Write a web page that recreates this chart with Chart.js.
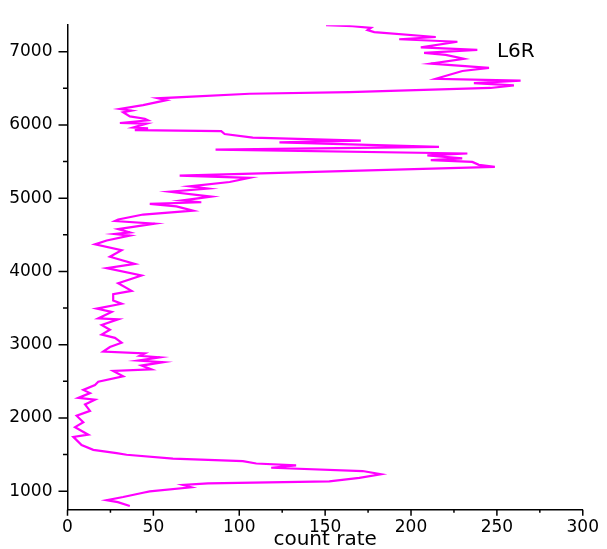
<!DOCTYPE html>
<html>
<head>
<meta charset="utf-8">
<script src="https://cdn.jsdelivr.net/npm/chart.js@4"></script>
<style>
  html, body { margin: 0; padding: 0; background: #fff; }
  #wrap { width: 607px; height: 549px; }
</style>
</head>
<body>
<div id="wrap"><canvas id="profileChart"></canvas></div>
<script>
// depth (y) and count rate (x) from top to bottom
const depth = [7362, 7348, 7325, 7294, 7268, 7201, 7170, 7136, 7060, 7024, 6984, 6957, 6904, 6838, 6780, 6737, 6630, 6604, 6572, 6541, 6505,
    6461, 6448, 6426, 6364, 6338, 6271, 6218, 6195, 6173, 6116, 6085, 6063, 6027, 6018, 5965, 5952, 5930,
    5916, 5876, 5827, 5787, 5761, 5700, 5664, 5610, 5584, 5544, 5521, 5495, 5455, 5428,
    5309, 5278, 5221, 5162, 5132, 5088, 5021, 4968, 4945, 4923, 4888, 4830, 4777, 4710, 4689, 4653, 4577, 4533, 4511, 4489,
    4423, 4370, 4290, 4201, 4104, 4045, 3944, 3838, 3735, 3691, 3602, 3559, 3492, 3447, 3359, 3346, 3270, 3203, 3137, 3093,
    3027, 2968, 2907, 2880, 2848, 2827, 2782, 2761, 2715, 2662, 2641, 2569, 2495, 2450, 2383, 2339, 2273, 2250, 2184, 2096,
    2029, 1940, 1874, 1771, 1741, 1630, 1564, 1519, 1497, 1444, 1409, 1378, 1351, 1320, 1275, 1231, 1181, 1133, 1106, 1085,
    1053, 996, 979, 920, 877, 850, 797];
const countRate = [150.5, 166.0, 176.7, 174.7, 178.6, 214.4, 193.1, 227.0, 205.7, 238.6, 207.6, 220.2, 230.8, 211.5, 245.4, 229.9, 214.4, 263.8, 236.6, 259.9, 246.3,
    183.2, 164.0, 106.0, 52.7, 57.6, 44.0, 30.5, 37.3, 32.4, 36.3, 45.0, 46.9, 30.5, 46.0, 38.2, 46.9, 39.2,
    89.5, 91.5, 107.9, 170.8, 123.4, 216.3, 86.2, 232.8, 209.5, 229.8, 211.5, 235.7, 239.5, 248.8,
    65.3, 106.0, 94.4, 71.1, 81.8, 59.5, 83.7, 66.3, 77.9, 47.9, 63.4, 73.1, 44.0, 29.5, 27.6, 50.8, 29.5, 36.3, 27.6, 36.3,
    22.8, 16.0, 31.5, 24.7, 39.2, 22.8, 43.1, 29.5, 37.3, 26.6, 26.6, 31.5, 17.0, 25.7, 17.9, 29.5, 19.9, 24.7, 19.9, 27.6,
    31.5, 24.7, 20.8, 45.0, 42.1, 53.7, 41.1, 55.6, 43.1, 48.9, 26.6, 32.4, 17.9, 16.0, 9.2, 13.1, 6.3, 16.0, 10.2, 13.1,
    5.3, 9.2, 4.4, 12.1, 3.4, 8.2, 15.0, 28.6, 34.4, 61.4, 102.1, 109.9, 133.1, 118.6, 171.8, 182.5, 169.9, 152.4, 81.8, 67.2,
    72.1, 47.9, 44.0, 32.4, 22.8, 29.3, 36.3];

const xTicks = [0, 50, 100, 150, 200, 250, 300];
const yTicks = [1000, 2000, 3000, 4000, 5000, 6000, 7000];
const xMinor = [25, 75, 125, 175, 225, 275];
const yMinor = [1500, 2500, 3500, 4500, 5500, 6500];
const curveLabel = 'L6R';

const points = countRate.map((c, i) => ({ x: c, y: depth[i] }));

// tick marks: x ticks hang below the axis, y ticks stick out to the left
const axisMarks = {
    id: 'axisMarks',
    afterDraw(chart) {
        const { ctx, scales: { x, y } } = chart;
        ctx.save();
        ctx.strokeStyle = '#000';
        ctx.lineWidth = 1.5;
        ctx.beginPath();
        xTicks.forEach(v => { const p = x.getPixelForValue(v); ctx.moveTo(p, x.top); ctx.lineTo(p, x.top + 6); });
        xMinor.forEach(v => { const p = x.getPixelForValue(v); ctx.moveTo(p, x.top); ctx.lineTo(p, x.top + 3); });
        yTicks.forEach(v => { const p = y.getPixelForValue(v); ctx.moveTo(y.right - 9, p); ctx.lineTo(y.right, p); });
        yMinor.forEach(v => { const p = y.getPixelForValue(v); ctx.moveTo(y.right - 4.5, p); ctx.lineTo(y.right, p); });
        ctx.stroke();
        ctx.fillStyle = '#000';
        ctx.font = '20px "DejaVu Sans"';
        ctx.textBaseline = 'middle';
        ctx.fillText(curveLabel, x.getPixelForValue(250), y.getPixelForValue(7000));
        ctx.restore();
    }
};

const profileCtx = document.getElementById('profileChart').getContext('2d');
const profileChart = new Chart(profileCtx, {
    type: 'scatter',
    data: {
        datasets: [{
            label: curveLabel,
            data: points,
            showLine: true,
            borderColor: '#ff00ff',
            borderWidth: 2.2,
            pointRadius: 0,
            tension: 0
        }]
    },
    options: {
        responsive: true,
        maintainAspectRatio: false,
        animation: false,
        layout: { padding: { top: 12, right: 23, left: 0, bottom: 0 } },
        plugins: {
            legend: { display: false },
            tooltip: { enabled: false }
        },
        scales: {
            x: {
                type: 'linear',
                min: 0,
                max: 300,
                afterBuildTicks: s => { s.ticks = xTicks.map(v => ({ value: v })); },
                afterFit: s => { s.height = 39.3; },
                grid: { display: false, drawTicks: false },
                border: { display: true, color: '#000', width: 1.5 },
                ticks: { color: '#000', padding: 8, font: { family: 'DejaVu Sans', size: 17 }, callback: v => String(v) },
                title: {
                    display: true,
                    text: 'count rate',
                    color: '#000',
                    padding: { top: 0, bottom: -1 },
                    font: { family: 'DejaVu Sans', size: 20, lineHeight: 1 }
                }
            },
            y: {
                type: 'linear',
                min: 747,
                max: 7362,
                afterBuildTicks: s => { s.ticks = yTicks.map(v => ({ value: v })); },
                afterFit: s => { s.width = 67.5; },
                grid: { display: false, drawTicks: false },
                border: { display: true, color: '#000', width: 1.5 },
                ticks: { color: '#000', padding: 15, font: { family: 'DejaVu Sans', size: 17 }, callback: v => String(v) }
            }
        }
    },
    plugins: [axisMarks]
});
</script>
</body>
</html>
